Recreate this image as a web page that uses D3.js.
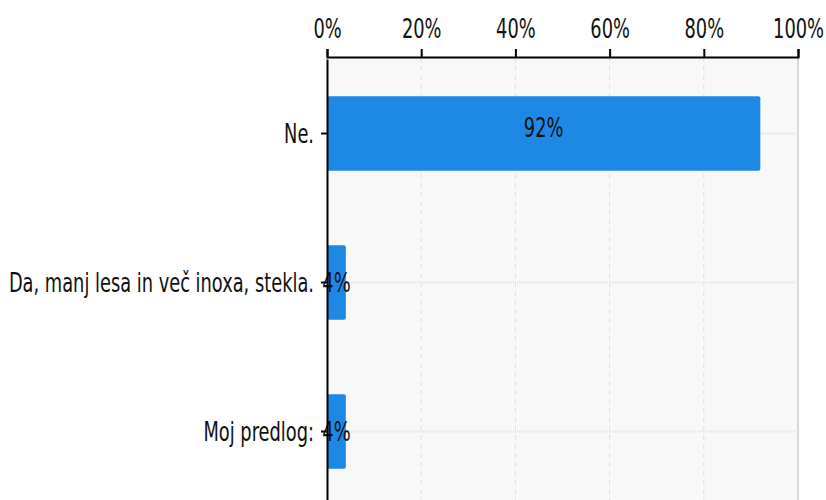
<!DOCTYPE html>
<html lang="en">
<head>
    <meta charset="UTF-8">
    <title>Bar chart</title>
    <style>
        body { margin: 0; background: #fff; }
        text { font-family: "DejaVu Sans", sans-serif; }
    </style>
</head>
<body>
<script src="https://d3js.org/d3.v7.min.js"></script>
<script>
    // Data
    const categories = ["Ne.", "Da, manj lesa in več inoxa, stekla.", "Moj predlog:"];
    const values = [92, 4, 4];
    const tickValues = [0, 20, 40, 60, 80, 100];

    // Dimensions
    const width = 826;
    const height = 500;
    const margin = {top: 57, left: 327, right: 28};
    const plotW = width - margin.left - margin.right;
    const plotH = 450;
    const fontSize = 27;
    const sx = 0.66; // the text in the original is squeezed horizontally

    const svg = d3.select("body")
        .append("svg")
        .attr("width", width)
        .attr("height", height);

    const g = svg.append("g")
        .attr("transform", `translate(${margin.left},${margin.top})`);

    const x = d3.scaleLinear().domain([0, 100]).range([0, plotW]);
    const y = d3.scaleBand().domain(categories).range([2, 449]).paddingInner(0.5).paddingOuter(0.25);

    // plot background
    g.append("rect")
        .attr("width", plotW)
        .attr("height", plotH)
        .attr("fill", "#f8f8f8");

    // vertical dashed grid
    g.selectAll(".vgrid")
        .data(tickValues.slice(1))
        .enter()
        .append("line")
        .attr("x1", d => x(d)).attr("x2", d => x(d))
        .attr("y1", 0).attr("y2", plotH)
        .attr("stroke", d => d === 100 ? "#d8d8d8" : "#e0e0e0")
        .attr("stroke-width", d => d === 100 ? 2 : 1)
        .attr("stroke-dasharray", d => d === 100 ? null : "5,4");

    // horizontal dotted grid at band centres
    g.selectAll(".hgrid")
        .data(categories)
        .enter()
        .append("line")
        .attr("x1", 0).attr("x2", plotW)
        .attr("y1", d => y(d) + y.bandwidth() / 2)
        .attr("y2", d => y(d) + y.bandwidth() / 2)
        .attr("stroke", "#e2e2e2")
        .attr("stroke-width", 2)
        .attr("stroke-dasharray", "1,1");

    // bars
    g.selectAll(".bar")
        .data(values)
        .enter()
        .append("rect")
        .attr("x", 0)
        .attr("y", (d, i) => y(categories[i]))
        .attr("width", d => x(d))
        .attr("height", y.bandwidth())
        .attr("rx", 2)
        .attr("fill", "#1e88e5");

    // bar labels (squeezed like the rest of the text)
    g.selectAll(".lbl")
        .data(values)
        .enter()
        .append("text")
        .attr("transform", (d, i) => {
            const cy = y(categories[i]) + y.bandwidth() / 2 - (x(d) > 60 ? 6 : 0);
            return `translate(${x(d) / 2},${cy}) scale(${sx},1)`;
        })
        .attr("dy", "0.36em")
        .attr("text-anchor", "middle")
        .attr("font-size", fontSize)
        .attr("fill", "#111")
        .text(d => d + "%");

    // top axis
    const xAxis = g.append("g")
        .call(d3.axisTop(x).tickValues(tickValues).tickFormat(d => d + "%").tickSize(8).tickSizeOuter(8));
    xAxis.select(".domain").attr("stroke", "#000").attr("stroke-width", 2);
    xAxis.selectAll(".tick line").attr("stroke", "#000").attr("stroke-width", 2);
    xAxis.selectAll(".tick text")
        .attr("font-size", fontSize)
        .attr("fill", "#111")
        .attr("font-family", "'DejaVu Sans', sans-serif")
        .attr("y", -19)
        .attr("transform", `scale(${sx},1)`);

    // left axis
    const yAxis = g.append("g")
        .call(d3.axisLeft(y).tickSize(6).tickSizeOuter(0));
    yAxis.select(".domain").attr("stroke", "#000").attr("stroke-width", 2);
    yAxis.selectAll(".tick line").attr("stroke", "#000").attr("stroke-width", 2);
    yAxis.selectAll(".tick text")
        .attr("font-size", fontSize)
        .attr("fill", "#111")
        .attr("font-family", "'DejaVu Sans', sans-serif")
        .attr("x", -13 / sx)
        .attr("dy", "0.36em")
        .attr("transform", `scale(${sx},1)`);
</script>
</body>
</html>
